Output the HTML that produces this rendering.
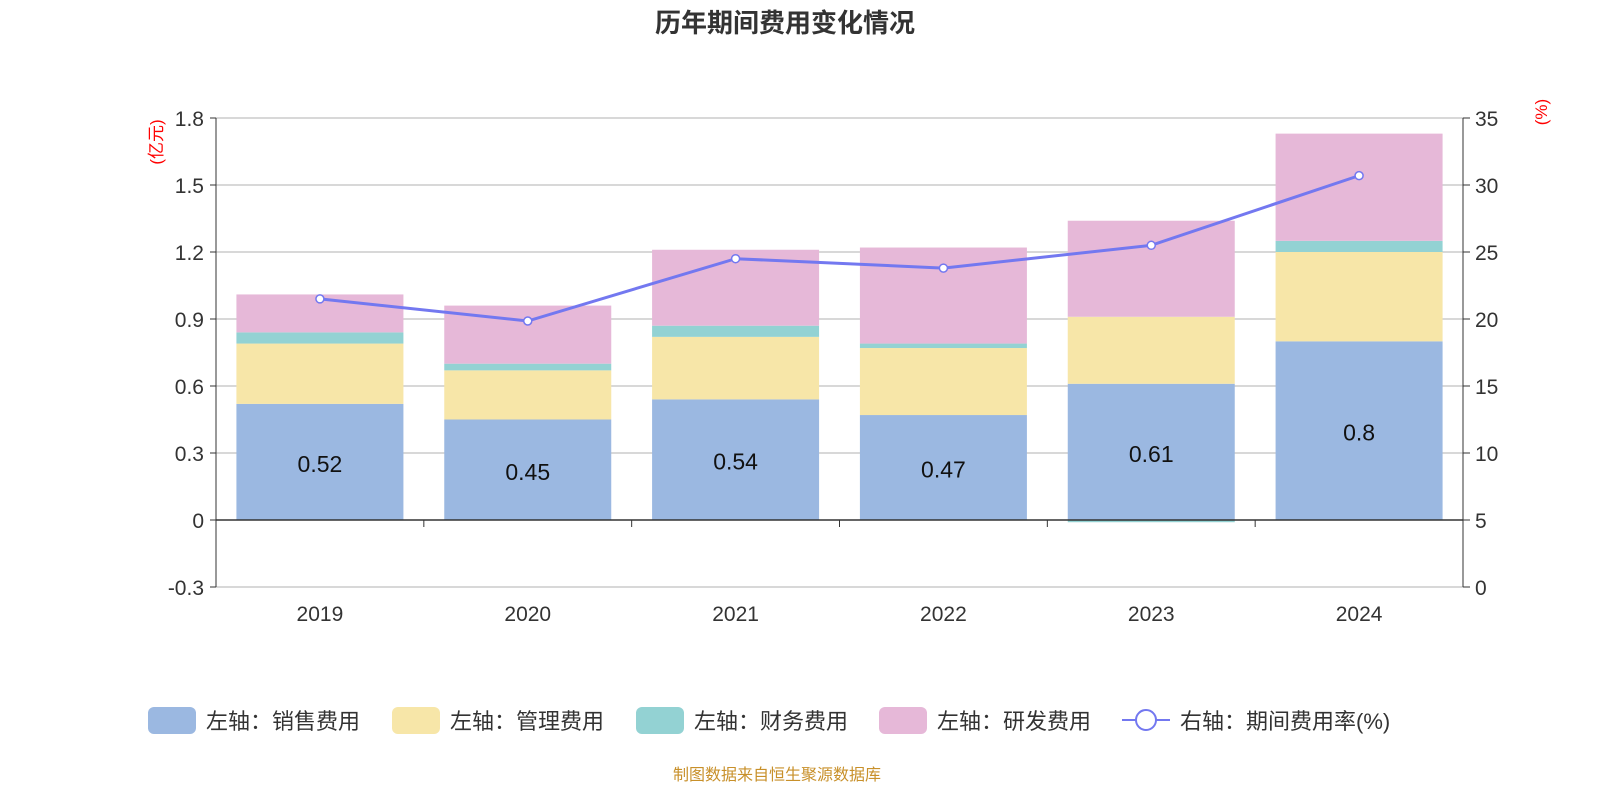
<!DOCTYPE html>
<html><head><meta charset="utf-8">
<style>
body{margin:0;background:#fff;width:1600px;height:800px;overflow:hidden;font-family:"Liberation Sans","Noto Sans CJK SC",sans-serif;}
svg text{font-family:"Liberation Sans","Noto Sans CJK SC",sans-serif;}
</style></head>
<body>
<svg id="c" width="1600" height="800"></svg>
<script>
const categories=["2019","2020","2021","2022","2023","2024"];
const sales=[0.52,0.45,0.54,0.47,0.61,0.80];
const mgmt=[0.27,0.22,0.28,0.30,0.30,0.40];
const fin=[0.05,0.03,0.05,0.02,-0.01,0.05];
const rd=[0.17,0.26,0.34,0.43,0.43,0.48];
const rate=[21.5,19.85,24.5,23.8,25.5,30.7];
const leftTicks=[-0.3,0,0.3,0.6,0.9,1.2,1.5,1.8];
const rightTicks=[0,5,10,15,20,25,30,35];

const svg=document.getElementById('c');
const NS='http://www.w3.org/2000/svg';
function mk(t,a,p){const e=document.createElementNS(NS,t);for(const k in a)e.setAttribute(k,a[k]);(p||svg).appendChild(e);return e;}
const X0=216,X1=1463,band=(X1-X0)/categories.length,bw=167;
const yL=v=>520-v*(402/1.8);
const yR=v=>587-v*(469/35);
const xC=i=>X0+band*(i+0.5);

let t=mk('text',{x:785,y:32,'text-anchor':'middle','font-size':26,'font-weight':'bold',fill:'#333'});t.textContent='历年期间费用变化情况';


leftTicks.forEach(v=>{
  if(v!==0){const g=mk('line',{x1:X0,x2:X1,y1:yL(v),y2:yL(v),stroke:'#ccc','stroke-width':1.5});
  }
  const l=mk('text',{x:X0-12,y:yL(v)+8,'text-anchor':'end','font-size':21,fill:'#333'});l.textContent=v===0?'0':v.toFixed(1);
  
  mk('line',{x1:X0-6,x2:X0,y1:yL(v),y2:yL(v),stroke:'#333'});
});
rightTicks.forEach(v=>{
  mk('line',{x1:X1,x2:X1+7,y1:yR(v),y2:yR(v),stroke:'#333'});
  const l=mk('text',{x:X1+12,y:yR(v)+8,'font-size':21,fill:'#333'});l.textContent=v;
  
});
mk('line',{x1:X0,x2:X0,y1:118,y2:587,stroke:'#333'});
mk('line',{x1:X1,x2:X1,y1:118,y2:587,stroke:'#333'});
let u=mk('text',{x:162,y:142,'font-size':17,fill:'red','text-anchor':'middle',transform:'rotate(-90 162 142)'});u.textContent='(亿元)';

u=mk('text',{x:1547,y:112,'font-size':17,fill:'red','text-anchor':'middle',transform:'rotate(-90 1547 112)'});u.textContent='(%)';


const colors=['#9bb8e1','#f7e6a8','#93d2d3','#e6b8d8'];
const series=[sales,mgmt,fin,rd];
const names=['sales','mgmt','fin','rd'];
categories.forEach((c,i)=>{
  let pos=0,neg=0;
  series.forEach((s,k)=>{
    const v=s[i];let y0,y1;
    if(v>=0){y0=pos;y1=pos+v;pos=y1;}else{y0=neg;y1=neg+v;neg=y1;}
    const r=mk('rect',{x:xC(i)-bw/2,y:Math.min(yL(y0),yL(y1)),width:bw,height:Math.max(Math.abs(yL(y1)-yL(y0)),1),fill:colors[k]});
    
  });
  const l=mk('text',{x:xC(i),y:yL(sales[i]/2)+10,'text-anchor':'middle','font-size':23,fill:'#111'});l.textContent=sales[i];
  
  const xl=mk('text',{x:xC(i),y:621,'text-anchor':'middle','font-size':21,fill:'#333'});xl.textContent=c;
  
});
mk('line',{x1:X0,x2:X1,y1:yL(0),y2:yL(0),stroke:'#333','stroke-width':1.5});
for(let i=1;i<categories.length;i++)mk('line',{x1:X0+band*i,x2:X0+band*i,y1:520,y2:527,stroke:'#333'});

const pts=rate.map((v,i)=>xC(i)+','+yR(v)).join(' ');
const pl=mk('polyline',{points:pts,fill:'none',stroke:'#7378f0','stroke-width':3});

rate.forEach((v,i)=>{const p=mk('circle',{cx:xC(i),cy:yR(v),r:4,fill:'#fff',stroke:'#7378f0','stroke-width':1.5});
});

const leg=[['左轴：销售费用',148],['左轴：管理费用',392],['左轴：财务费用',636],['左轴：研发费用',879]];
leg.forEach((l,k)=>{
  const r=mk('rect',{x:l[1],y:707,width:48,height:27,rx:6,fill:colors[k]});
  
  const tx=mk('text',{x:l[1]+58,y:729,'font-size':22,fill:'#333'});tx.textContent=l[0];
  
});
mk('line',{x1:1122,x2:1170,y1:720,y2:720,stroke:'#7378f0','stroke-width':2});
const lc=mk('circle',{cx:1146,cy:720,r:10,fill:'#fff',stroke:'#7378f0','stroke-width':2});

const lt=mk('text',{x:1180,y:729,'font-size':22,fill:'#333'});lt.textContent='右轴：期间费用率(%)';


const s=mk('text',{x:777,y:780,'text-anchor':'middle','font-size':16,fill:'#c8902a'});s.textContent='制图数据来自恒生聚源数据库';

</script>
</body></html>
